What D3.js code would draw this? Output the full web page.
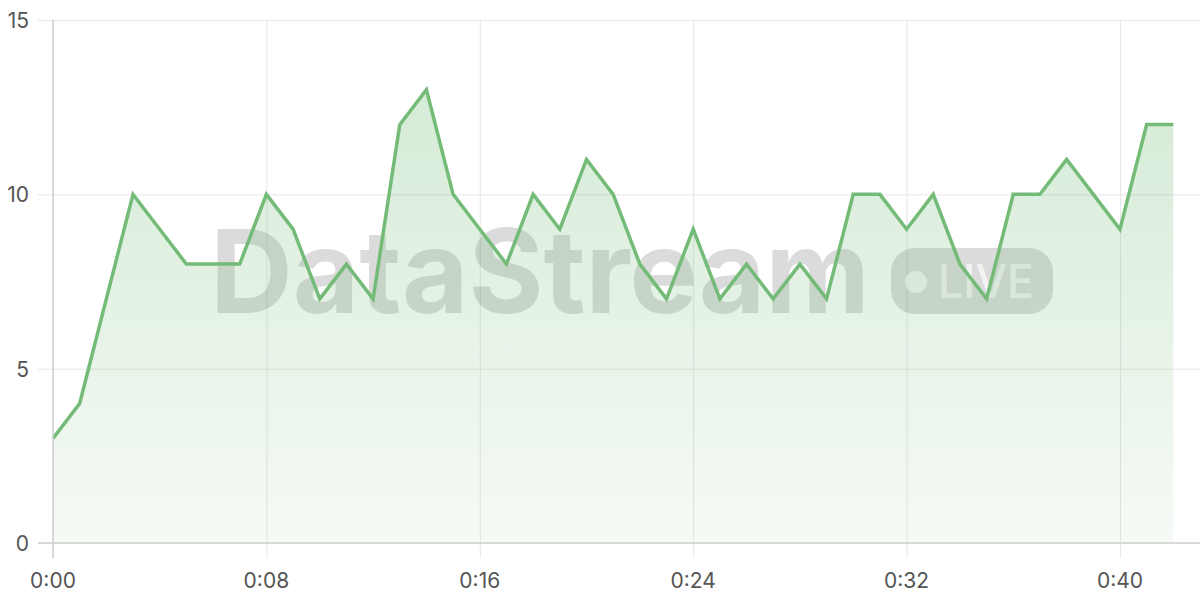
<!DOCTYPE html>
<html>
<head>
<meta charset="utf-8">
<script src="https://cdn.jsdelivr.net/npm/d3@7"></script>
<style>
  html, body { margin: 0; padding: 0; background: #fff; }
  svg { display: block; font-family: Inter, "Open Sans", sans-serif; }
</style>
</head>
<body>
<div id="chart"></div>
<script>
// seconds since start, one sample a second
var seconds = d3.range(0, 43);
var values = [3, 4, 7, 10, 9, 8, 8, 8, 10, 9, 7, 8, 7, 12, 13, 10, 9, 8, 10, 9,
              11, 10, 8, 7, 9, 7, 8, 7, 8, 7, 10, 10, 9, 10, 8, 7, 10, 10, 11, 10,
              9, 12, 12];
var xTicks = [0, 8, 16, 24, 32, 40];
var yTicks = [0, 5, 10, 15];

var width = 1200, height = 600;
var margin = {top: 20, right: 0, bottom: 57, left: 53};

var svg = d3.select("#chart").append("svg")
    .attr("width", width)
    .attr("height", height);

var x = d3.scaleLinear().domain([0, 43]).range([margin.left, width - margin.right]);
var y = d3.scaleLinear().domain([0, 15]).range([height - margin.bottom, margin.top]);

var data = seconds.map(function (s, i) { return {t: s, v: values[i]}; });

function fmt(s) {
  return Math.floor(s / 60) + ":" + d3.format("02")(s % 60);
}

// gradient for area
var grad = svg.append("defs").append("linearGradient")
    .attr("id", "fillGrad")
    .attr("x1", 0).attr("y1", 0).attr("x2", 0).attr("y2", 1);
grad.append("stop").attr("offset", "0%").attr("stop-color", "#74bb78").attr("stop-opacity", 0.3);
grad.append("stop").attr("offset", "100%").attr("stop-color", "#74bb78").attr("stop-opacity", 0.07);

// grid lines
svg.append("g")
    .attr("transform", "translate(0," + y(0) + ")")
    .call(d3.axisBottom(x).tickValues(xTicks).tickSize(-(y(0) - y(15))).tickFormat(""))
    .call(function (g) {
      g.select(".domain").remove();
      g.selectAll("line").attr("stroke", "#e6e6e6").attr("y2", -(y(0) - y(15))).attr("y1", 15);
    });

svg.append("g")
    .attr("transform", "translate(" + x(0) + ",0)")
    .call(d3.axisLeft(y).tickValues(yTicks).tickSize(-(width - margin.left)).tickFormat(""))
    .call(function (g) {
      g.select(".domain").remove();
      g.selectAll("line").attr("stroke", "#e6e6e6").attr("x1", -15);
    });

// watermark
var wm = svg.append("g").attr("class", "watermark");
wm.append("text")
    .attr("x", 210).attr("y", 313)
    .attr("font-size", 116)
    .attr("font-weight", 700)
    .attr("textLength", 660)
    .attr("lengthAdjust", "spacingAndGlyphs")
    .attr("fill", "rgba(0,0,0,0.14)")
    .text("DataStream");
wm.append("rect")
    .attr("x", 891).attr("y", 248)
    .attr("width", 162).attr("height", 66)
    .attr("rx", 24)
    .attr("fill", "rgba(0,0,0,0.14)");
wm.append("circle")
    .attr("cx", 916).attr("cy", 282).attr("r", 11)
    .attr("fill", "rgba(255,255,255,0.7)");
wm.append("text")
    .attr("x", 938).attr("y", 298)
    .attr("font-size", 47)
    .attr("font-weight", 500)
    .attr("textLength", 96)
    .attr("lengthAdjust", "spacingAndGlyphs")
    .attr("fill", "rgba(255,255,255,0.7)")
    .text("LIVE");

// area + line
svg.append("path")
    .datum(data)
    .attr("fill", "url(#fillGrad)")
    .attr("d", d3.area()
      .x(function (d) { return x(d.t); })
      .y0(y(0))
      .y1(function (d) { return y(d.v); }));

svg.append("path")
    .datum(data)
    .attr("fill", "none")
    .attr("stroke", "#74bb78")
    .attr("stroke-width", 3.5)
    .attr("stroke-linejoin", "miter")
    .attr("d", d3.line()
      .x(function (d) { return x(d.t); })
      .y(function (d) { return y(d.v); }));

// axes
svg.append("line")
    .attr("x1", margin.left - 15).attr("x2", width)
    .attr("y1", y(0)).attr("y2", y(0))
    .attr("stroke", "#d0d0d0").attr("stroke-width", 1.5);
svg.append("line")
    .attr("x1", x(0)).attr("x2", x(0))
    .attr("y1", y(15)).attr("y2", y(0) + 15)
    .attr("stroke", "#d0d0d0").attr("stroke-width", 1.5);

svg.append("g")
    .selectAll("text")
    .data(xTicks)
    .enter().append("text")
    .attr("x", function (d) { return x(d); })
    .attr("y", 588)
    .attr("text-anchor", "middle")
    .attr("font-size", 21)
    .attr("fill", "#555")
    .text(fmt);

svg.append("g")
    .selectAll("text")
    .data(yTicks)
    .enter().append("text")
    .attr("x", 29)
    .attr("y", function (d) { return y(d) + 8; })
    .attr("text-anchor", "end")
    .attr("font-size", 21)
    .attr("fill", "#555")
    .text(function (d) { return d; });
</script>
</body>
</html>
